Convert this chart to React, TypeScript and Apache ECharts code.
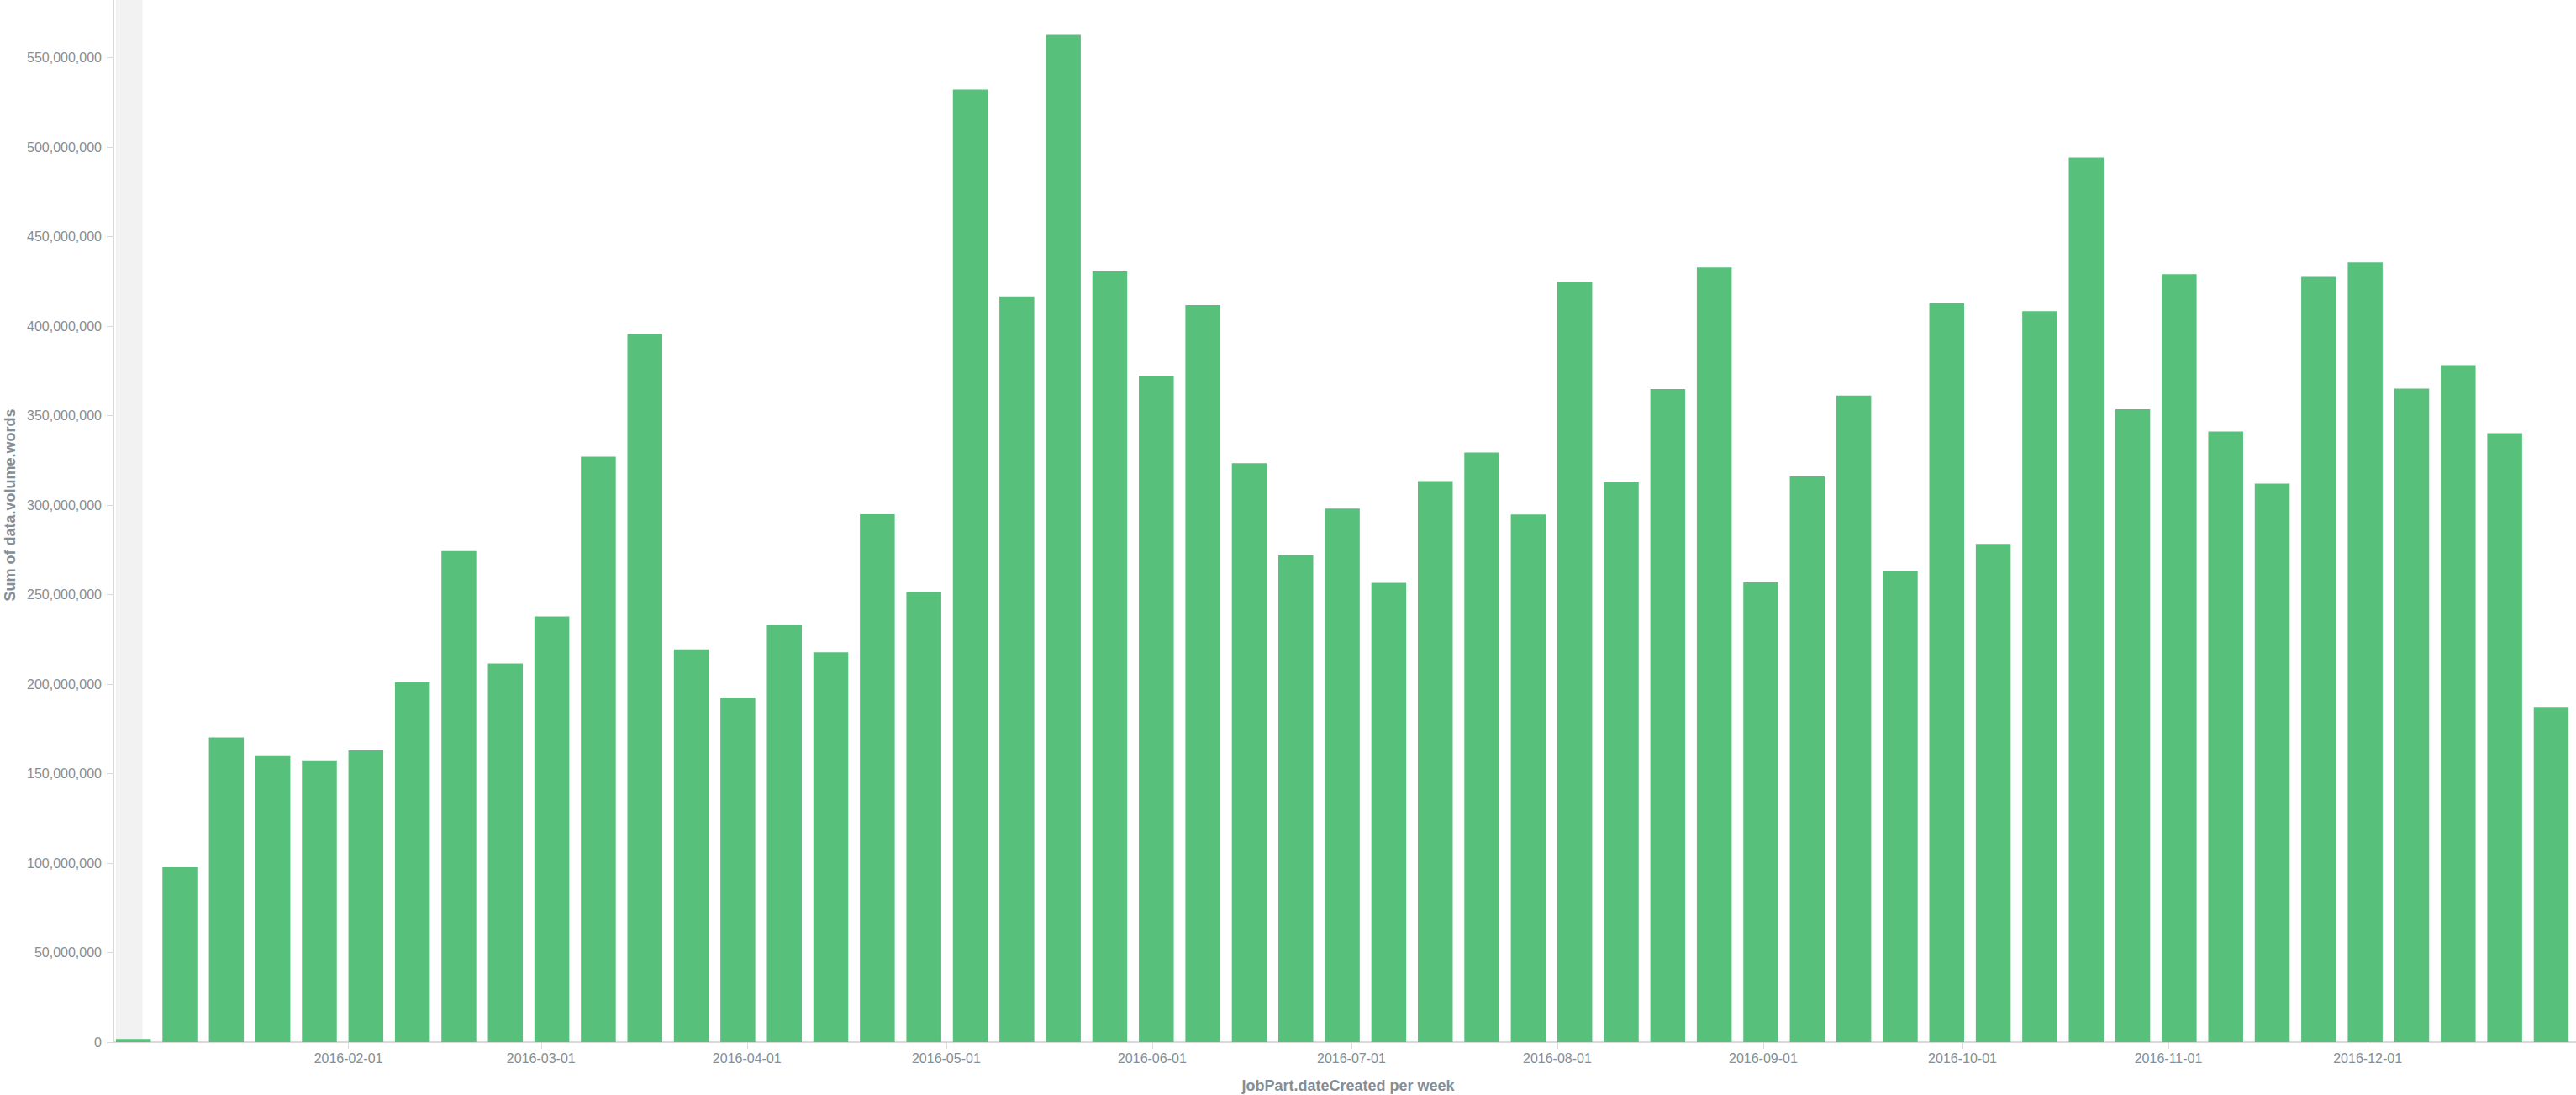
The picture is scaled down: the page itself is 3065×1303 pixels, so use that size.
import React, { useEffect, useRef } from "react";
import * as echarts from "echarts";

// Weekly buckets (week start, Monday)
const weekStarts = [
  "2015-12-28",
  "2016-01-04", "2016-01-11", "2016-01-18", "2016-01-25",
  "2016-02-01", "2016-02-08", "2016-02-15", "2016-02-22", "2016-02-29",
  "2016-03-07", "2016-03-14", "2016-03-21", "2016-03-28",
  "2016-04-04", "2016-04-11", "2016-04-18", "2016-04-25",
  "2016-05-02", "2016-05-09", "2016-05-16", "2016-05-23", "2016-05-30",
  "2016-06-06", "2016-06-13", "2016-06-20", "2016-06-27",
  "2016-07-04", "2016-07-11", "2016-07-18", "2016-07-25",
  "2016-08-01", "2016-08-08", "2016-08-15", "2016-08-22", "2016-08-29",
  "2016-09-05", "2016-09-12", "2016-09-19", "2016-09-26",
  "2016-10-03", "2016-10-10", "2016-10-17", "2016-10-24", "2016-10-31",
  "2016-11-07", "2016-11-14", "2016-11-21", "2016-11-28",
  "2016-12-05", "2016-12-12", "2016-12-19", "2016-12-26",
];

// Sum of data.volume.words per week
const wordSums = [
  1800000,
  97700000, 170200000, 159700000, 157400000,
  162900000, 201100000, 274300000, 211500000, 237800000,
  327000000, 395700000, 219400000, 192400000,
  232900000, 217700000, 294800000, 251500000,
  532200000, 416600000, 562700000, 430500000, 372100000,
  411700000, 323300000, 272000000, 298000000,
  256600000, 313400000, 329400000, 294700000,
  424700000, 312800000, 364800000, 432800000, 256800000,
  316000000, 361100000, 263200000, 412800000,
  278300000, 408300000, 494100000, 353500000, 429000000,
  341100000, 312000000, 427500000, 435600000,
  365000000, 378200000, 340100000, 187200000,
];

const xTickLabels = [
  "2016-02-01", "2016-03-01", "2016-04-01", "2016-05-01", "2016-06-01",
  "2016-07-01", "2016-08-01", "2016-09-01", "2016-10-01", "2016-11-01", "2016-12-01",
];

const yTickValues = [
  0, 50000000, 100000000, 150000000, 200000000, 250000000,
  300000000, 350000000, 400000000, 450000000, 500000000, 550000000,
];

const rangeStart = "2016-01-01";
const axisStart = "2015-12-28";
const axisEnd = "2017-01-02";

const DAY = 86400000;
const WEEK = 7 * DAY;
const BAR_FILL = 0.75;

const toTs = (s: string) => {
  const [y, m, d] = s.split("-").map(Number);
  return Date.UTC(y, m - 1, d);
};
const pad = (n: number) => (n < 10 ? "0" + n : "" + n);
const fmtDate = (v: number) => {
  const d = new Date(v);
  return `${d.getUTCFullYear()}-${pad(d.getUTCMonth() + 1)}-${pad(d.getUTCDate())}`;
};

const TEXT = "#848e96";
const LINE = "#d9d9d9";
const FONT = "'Liberation Sans', Arial, Helvetica, sans-serif";

export default function App() {
  const ref = useRef<HTMLDivElement>(null);

  useEffect(() => {
    if (!ref.current) return;
    const chart = echarts.init(ref.current, undefined, { renderer: "svg" });
    const barData = weekStarts.map((w, i) => [toTs(w) + (BAR_FILL / 2) * WEEK, wordSums[i]]);
    const xTicks = xTickLabels.map(toTs);

    chart.setOption({
      animation: false,
      textStyle: { fontFamily: FONT },
      grid: {
        left: 135,
        right: 0,
        top: 0,
        bottom: 63,
        containLabel: false,
        outerBoundsMode: "none",
      },
      xAxis: {
        type: "value",
        min: toTs(axisStart) - 0.375 * DAY,
        max: toTs(axisEnd) + 0.375 * DAY,
        scale: true,
        name: "jobPart.dateCreated per week",
        nameLocation: "middle",
        nameGap: 43,
        nameTextStyle: { color: TEXT, fontSize: 18, fontWeight: "bold", fontFamily: FONT },
        axisLine: { show: true, lineStyle: { color: LINE, width: 2 } },
        axisTick: { show: true, length: 8, customValues: xTicks, lineStyle: { color: LINE, width: 1 } },
        axisLabel: {
          customValues: xTicks,
          formatter: (v: number) => fmtDate(v),
          color: TEXT,
          fontSize: 16,
          margin: 11,
          fontFamily: FONT,
        },
        splitLine: { show: false },
      },
      yAxis: {
        type: "value",
        min: 0,
        max: 600000000,
        interval: 50000000,
        name: "Sum of data.volume.words",
        nameLocation: "middle",
        nameGap: 113,
        nameTextStyle: { color: TEXT, fontSize: 18, fontWeight: "bold", fontFamily: FONT },
        axisLine: { show: true, lineStyle: { color: LINE, width: 2 } },
        axisTick: { show: true, length: 8, customValues: yTickValues, lineStyle: { color: LINE, width: 1 } },
        axisLabel: {
          customValues: yTickValues,
          formatter: (v: number) => v.toLocaleString("en-US"),
          color: TEXT,
          fontSize: 16,
          margin: 14,
          fontFamily: FONT,
        },
        splitLine: { show: false },
      },
      series: [
        {
          type: "bar",
          data: barData,
          barWidth: 41.5,
          itemStyle: { color: "#57c17b" },
          z: 3,
          markArea: {
            silent: true,
            z: 1,
            itemStyle: { color: "#f2f2f2" },
            data: [[{ xAxis: toTs(weekStarts[0]) }, { xAxis: toTs(rangeStart) }]],
          },
        },
      ],
    });

    return () => chart.dispose();
  }, []);

  return (
    <div
      ref={ref}
      style={{ position: "fixed", left: 0, top: -38, width: 3073, height: 1341, background: "#fff" }}
    />
  );
}
